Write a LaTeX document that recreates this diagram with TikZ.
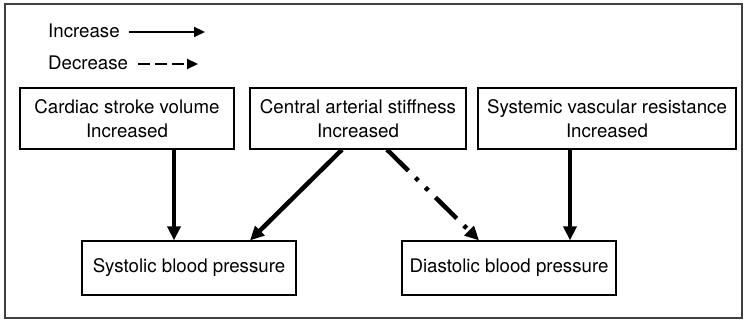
\documentclass[tikz,border=0pt]{standalone}
\usepackage{fontspec}
\setmainfont{TeX Gyre Heros}
\usepackage{tikz}
\usetikzlibrary{arrows.meta,positioning,calc}

\begin{document}
\begin{tikzpicture}[
  x=1pt,y=-1pt,
  font=\fontsize{18.7}{24}\selectfont,
  box/.style={draw=black,line width=1.2pt,minimum height=61pt,inner sep=2pt,align=center},
  outbox/.style={box,minimum width=214pt,minimum height=54pt},
  arr/.style={-{Triangle[length=14pt,width=13pt]},line width=4.5pt},
  dasharr/.style={arr,dash pattern=on 30pt off 10pt on 4pt off 10pt on 4pt off 10pt},
  legarr/.style={-{Triangle[length=11pt,width=10pt]},line width=2.2pt}
]
\useasboundingbox (0,0) rectangle (748,320);
\draw[line width=1.5pt,draw=black!75] (5,4) rectangle (742,318);

% legend
\node[anchor=west,inner sep=0pt] (inc) at (48,31) {Increase};
\node[anchor=west,inner sep=0pt] (dec) at (48,63) {Decrease};
\coordinate (incend) at (205,32);
\coordinate (decend) at (198,64);
\draw[legarr] ([xshift=9pt,yshift=-1pt]inc.east) -- (incend);
\draw[legarr,dash pattern=on 12pt off 5pt] ([xshift=10pt,yshift=-1pt]dec.east) -- (decend);

% causes
\node[box,minimum width=214pt] (cardiac) at (127,118.5) {Cardiac stroke volume\\Increased};
\node[box,minimum width=216pt] (central) at (358,118.5) {Central arterial stiffness\\Increased};
\node[box,minimum width=258pt] (systemic) at (607,118.5) {Systemic vascular resistance\\Increased};

% pressures
\node[outbox] (systolic) at (189,268) {Systolic blood pressure};
\node[outbox] (diastolic) at (509,268) {Diastolic blood pressure};

\draw[arr] ([xshift=47pt]cardiac.south) -- ([xshift=-15pt]systolic.north);
\draw[arr] ([xshift=-16pt]central.south) -- ([xshift=61pt]systolic.north);
\draw[dasharr] ([xshift=29pt]central.south) -- ([xshift=-30pt]diastolic.north);
\draw[arr] ([xshift=-37pt]systemic.south) -- ([xshift=61pt]diastolic.north);
\end{tikzpicture}
\end{document}
